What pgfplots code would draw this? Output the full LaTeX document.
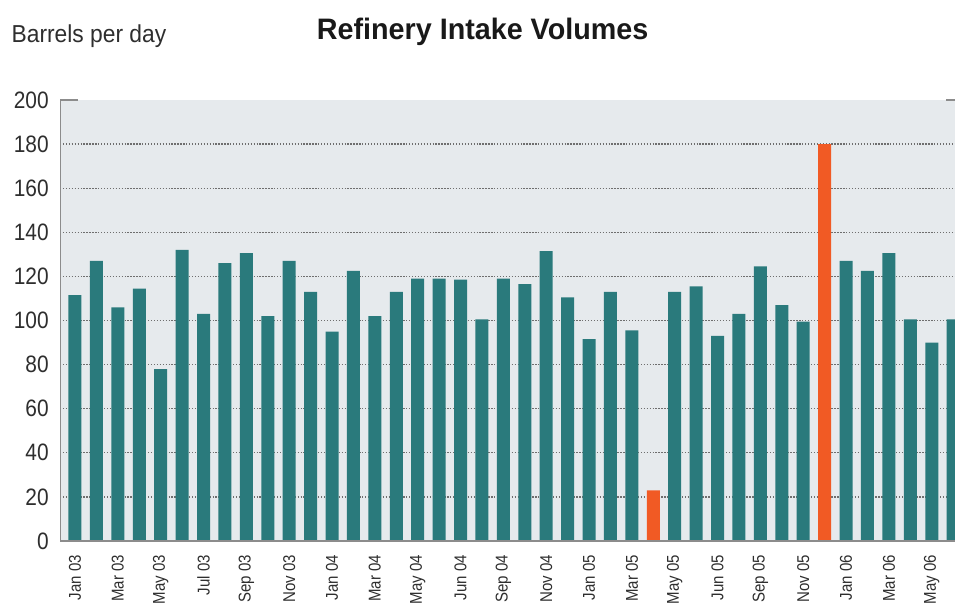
\documentclass[border=0pt]{standalone}
\usepackage{pgfplots}
\pgfplotsset{compat=1.18}
\usepackage{fontspec}
\setmainfont{Liberation Sans}[FakeStretch=0.88]
\newfontfamily\labfont{Liberation Sans}[FakeStretch=0.93]
\newfontfamily\titfont{Liberation Sans}[FakeStretch=0.97]
\definecolor{teal1}{HTML}{2A7A7C}
\definecolor{orange1}{HTML}{F15A24}
\definecolor{bgc}{HTML}{E6EAED}
\definecolor{axgray}{HTML}{8C8C8C}
\definecolor{gridc}{HTML}{6E6E6E}
\definecolor{txt}{HTML}{2E2E2E}
\begin{document}
\begin{tikzpicture}
\begin{axis}[
  at={(45pt,49.5pt)}, anchor=south west,
  scale only axis, width=677.9pt, height=330.75pt,
  xmin=-0.70, xmax=41.5, ymin=0, ymax=200,
  ybar, bar width=9.75pt,
  axis line style={draw=none},
  axis background/.style={fill=bgc},
  ytick={0,20,...,200},
  extra y ticks={20,40,...,180},
  extra y tick labels={},
  extra y tick style={ymajorgrids=true, major tick length=0pt},
  major grid style={draw=gridc, line width=1pt, dash pattern=on 1pt off 1.2pt},
  major tick length=0pt,
  xtick={0,2,...,40},
  xticklabels={Jan 03,Mar 03,May 03,Jul 03,Sep 03,Nov 03,Jan 04,Mar 04,May 04,Jun 04,Sep 04,Nov 04,Jan 05,Mar 05,May 05,Jun 05,Sep 05,Nov 05,Jan 06,Mar 06,May 06},
  xticklabel style={rotate=90, anchor=east, font=\fontsize{12.8pt}{14pt}\selectfont, text=txt},
  xticklabel shift=7pt,
  yticklabel style={font=\fontsize{17.8pt}{19pt}\selectfont, text=txt},
  yticklabel shift=5pt,
  /pgf/number format/assume math mode=true,
  clip=true,
]
\addplot[fill=teal1, draw=none, bar shift=0pt] coordinates {
(0,111.5) (1,127) (2,106) (3,114.5) (4,78) (5,132) (6,103) (7,126) (8,130.5) (9,102)
(10,127) (11,113) (12,95) (13,122.5) (14,102) (15,113) (16,119) (17,119) (18,118.5) (19,100.5)
(20,119) (21,116.5) (22,131.5) (23,110.5) (24,91.5) (25,113) (26,95.5) (28,113) (29,115.5)
(30,93) (31,103) (32,124.5) (33,107) (34,99.5) (36,127) (37,122.5) (38,130.5) (39,100.5)
(40,90) (41,100.5)
};
\addplot[fill=orange1, draw=none, bar shift=0pt] coordinates {(27,23) (35,180)};
\draw[axgray, line width=1.2pt] (rel axis cs:0,1) -- (rel axis cs:0,0) -- (rel axis cs:1,0);
\draw[axgray, line width=1.2pt] (rel axis cs:0,1) -- (rel axis cs:0.0199,1);
\draw[axgray, line width=1.2pt] (rel axis cs:1,1) -- (rel axis cs:0.9801,1);
\end{axis}
\node[anchor=base west, inner sep=0pt, text=txt, font=\labfont\fontsize{18.4pt}{20pt}\selectfont] at (8.5pt,423pt) {Barrels per day};
\node[anchor=base west, inner sep=0pt, text=black!90, font=\titfont\bfseries\fontsize{22.2pt}{24pt}\selectfont] at (237.5pt,425.5pt) {Refinery Intake Volumes};
\pgfresetboundingbox
\path[use as bounding box] (0,0) rectangle (716.25pt,455.25pt);
\end{tikzpicture}
\end{document}
